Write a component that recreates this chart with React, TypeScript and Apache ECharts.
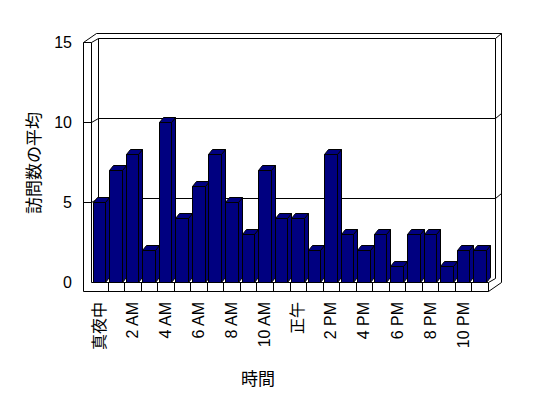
import React, { useEffect, useRef } from 'react';
import * as echarts from 'echarts';

const hours = [
  '真夜中', '1 AM', '2 AM', '3 AM', '4 AM', '5 AM', '6 AM', '7 AM', '8 AM', '9 AM', '10 AM', '11 AM',
  '正午', '1 PM', '2 PM', '3 PM', '4 PM', '5 PM', '6 PM', '7 PM', '8 PM', '9 PM', '10 PM', '11 PM',
];
const visits = [5, 7, 8, 2, 10, 4, 6, 8, 5, 3, 7, 4, 4, 2, 8, 3, 2, 3, 1, 3, 3, 1, 2, 2];
const gridValues = [5, 10];
const yMin = 0;
const yMax = 15;
const yInterval = 5;
const xTitle = '時間';
const yTitle = '訪問数の平均';

const FONT = "'Liberation Sans', 'Noto Sans CJK JP', sans-serif";
const CJK = "'Noto Sans CJK JP', 'Liberation Sans', sans-serif";

export default function App() {
  const ref = useRef<HTMLDivElement>(null);

  useEffect(() => {
    const chart = echarts.init(ref.current!, null, { renderer: 'svg' });

    const INNER = [7, -4];
    const OUTER = [13, -9];
    const WALL = 8;
    const FLOOR = 9;
    const px = (v: number) => Math.round(v) + 0.5;
    const stroke = { stroke: '#000', lineWidth: 1, fill: null };

    const frameRender = (params: any, api: any) => {
      const cs = params.coordSys;
      const L = cs.x;
      const R = cs.x + cs.width;
      const B = api.coord([0, yMin])[1];
      const T = api.coord([0, yMax])[1];
      const band = api.size([1, 0])[0];
      const children: any[] = [];
      const seg = (pts: number[][]) =>
        children.push({
          type: 'polyline',
          shape: { points: pts.map((p) => [px(p[0]), px(p[1])]) },
          style: { ...stroke },
        });
      seg([[L - WALL, T], [L - WALL, B + FLOOR]]);
      seg([[L, T], [L, B]]);
      seg([[L - WALL, T], [L, T]]);
      seg([[L - WALL, B + FLOOR], [R, B + FLOOR]]);
      seg([[L, B], [R, B]]);
      seg([[R, B], [R, B + FLOOR]]);
      for (let k = 1; k < hours.length; k++) {
        const x = L + k * band;
        seg([[x, B], [x, B + FLOOR]]);
      }
      seg([[R, B + FLOOR], [R + OUTER[0], B + FLOOR + OUTER[1]]]);
      seg([[R, B], [R + INNER[0], B + INNER[1]]]);
      seg([[R + OUTER[0], B + FLOOR + OUTER[1]], [R + OUTER[0], T + OUTER[1]]]);
      seg([[R + INNER[0], B + INNER[1]], [R + INNER[0], T + INNER[1]]]);
      seg([[L - WALL, T], [L - WALL + OUTER[0], T + OUTER[1]], [R + OUTER[0], T + OUTER[1]]]);
      seg([[L, T], [L + INNER[0], T + INNER[1]], [R + INNER[0], T + INNER[1]], [R + OUTER[0], T + OUTER[1]]]);
      seg([[L + INNER[0], T + INNER[1]], [L + INNER[0], B + INNER[1]]]);
      gridValues.forEach((v) => {
        const y = api.coord([0, v])[1];
        seg([
          [L - WALL, y],
          [L, y],
          [L + INNER[0], y + INNER[1]],
          [R + INNER[0], y + INNER[1]],
          [R + OUTER[0], y + OUTER[1]],
        ]);
      });
      return { type: 'group', children };
    };

    const barRender = (params: any, api: any) => {
      const idx = api.value(0);
      const val = api.value(1);
      const [cx, y] = api.coord([idx, val]);
      const B = api.coord([idx, yMin])[1];
      const band = api.size([1, 0])[0];
      const dx = 4;
      const dy = -5;
      const x0 = px(cx - band / 2 + 1.7);
      const x1 = px(cx - band / 2 + 1.7 + band * 0.76);
      const yt = px(y);
      const yb = px(B);
      const style = { fill: '#000080', stroke: '#000', lineWidth: 1 };
      return {
        type: 'group',
        children: [
          {
            type: 'polygon',
            shape: { points: [[x1, yt], [x1 + dx, yt + dy], [x1 + dx, yb + dy], [x1, yb]] },
            style,
          },
          {
            type: 'polygon',
            shape: { points: [[x0, yt], [x0 + dx, yt + dy], [x1 + dx, yt + dy], [x1, yt]] },
            style,
          },
          {
            type: 'rect',
            shape: { x: x0, y: yt, width: x1 - x0, height: yb - yt },
            style,
          },
        ],
      };
    };

    chart.setOption({
      animation: false,
      backgroundColor: '#fff',
      grid: { left: 91, right: 60, top: 42, bottom: 116, containLabel: false },
      xAxis: {
        type: 'category',
        data: hours,
        boundaryGap: true,
        axisLine: { show: false },
        axisTick: { show: false },
        splitLine: { show: false },
        axisLabel: {
          interval: 1,
          rotate: 90,
          margin: 20,
          color: '#000',
          fontSize: 16,
          fontFamily: FONT,
        },
      },
      yAxis: {
        type: 'value',
        min: yMin,
        max: yMax,
        interval: yInterval,
        axisLine: { show: false },
        axisTick: { show: false },
        splitLine: { show: false },
        axisLabel: { margin: 19, color: '#000', fontSize: 16, fontFamily: FONT },
      },
      graphic: [
        {
          type: 'text',
          x: 258,
          y: 377,
          style: {
            text: xTitle,
            fill: '#000',
            fontSize: 17,
            fontFamily: CJK,
            textAlign: 'center',
            textVerticalAlign: 'middle',
          },
        },
        {
          type: 'text',
          x: 32,
          y: 163,
          rotation: Math.PI / 2,
          style: {
            text: yTitle,
            fill: '#000',
            fontSize: 17,
            fontFamily: CJK,
            textAlign: 'center',
            textVerticalAlign: 'middle',
          },
        },
      ],
      series: [
        {
          type: 'custom',
          z: 1,
          renderItem: frameRender,
          data: [[0, 0]],
          silent: true,
        },
        {
          type: 'custom',
          z: 2,
          renderItem: barRender,
          data: visits.map((v, i) => [i, v]),
          encode: { x: 0, y: 1 },
        },
      ],
    });

    return () => chart.dispose();
  }, []);

  return (
    <div
      ref={ref}
      style={{ position: 'fixed', left: 0, top: 0, width: 548, height: 398 }}
    />
  );
}
